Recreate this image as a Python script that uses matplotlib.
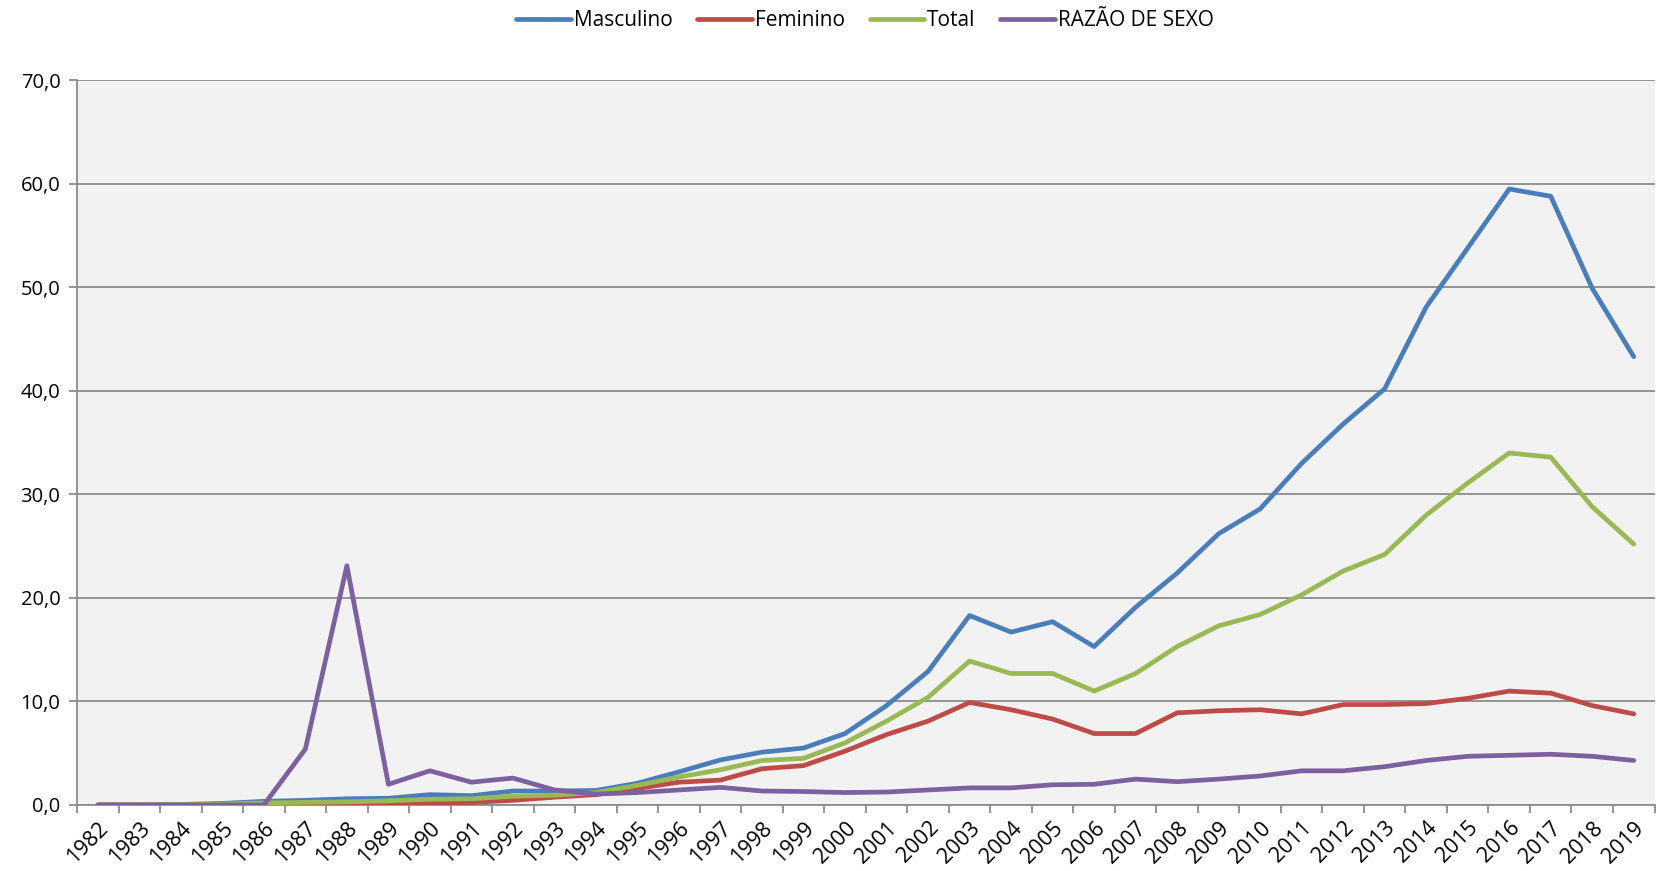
import matplotlib
matplotlib.use("Agg")
import matplotlib.pyplot as plt
import numpy as np

years = [str(y) for y in range(1982, 2020)]
masculino = [0.0, 0.0, 0.05, 0.15, 0.35, 0.45, 0.6, 0.65, 1.0, 0.9, 1.35, 1.35, 1.4, 2.1,
             3.2, 4.35, 5.1, 5.5, 6.9, 9.6, 12.9, 18.3, 16.7, 17.7, 15.3, 19.1, 22.4, 26.2,
             28.6, 33.0, 36.8, 40.2, 48.1, 53.8, 59.5, 58.8, 49.9, 43.3]
feminino = [0.0, 0.0, 0.0, 0.0, 0.0, 0.0, 0.0, 0.1, 0.2, 0.25, 0.45, 0.75, 1.0, 1.6,
            2.2, 2.4, 3.5, 3.8, 5.2, 6.8, 8.1, 9.9, 9.2, 8.3, 6.9, 6.9, 8.9, 9.1,
            9.2, 8.8, 9.7, 9.7, 9.8, 10.3, 11.0, 10.8, 9.6, 8.8]
total = [0.0, 0.0, 0.03, 0.08, 0.2, 0.25, 0.3, 0.4, 0.55, 0.6, 0.85, 0.95, 1.2, 1.9,
         2.7, 3.4, 4.3, 4.5, 6.0, 8.1, 10.4, 13.9, 12.7, 12.7, 11.0, 12.7, 15.3, 17.3,
         18.4, 20.3, 22.6, 24.2, 28.0, 31.1, 34.0, 33.6, 28.8, 25.2]
razao = [0.0, 0.0, 0.0, 0.0, 0.0, 5.4, 23.1, 2.0, 3.3, 2.2, 2.6, 1.45, 1.05, 1.2,
         1.45, 1.7, 1.35, 1.3, 1.2, 1.25, 1.45, 1.65, 1.65, 1.95, 2.0, 2.5, 2.25, 2.5,
         2.8, 3.3, 3.3, 3.7, 4.3, 4.7, 4.8, 4.9, 4.7, 4.3]

series = [("Masculino", masculino, "#4A7EBB"),
          ("Feminino", feminino, "#BE4B48"),
          ("Total", total, "#98B954"),
          ("RAZÃO DE SEXO", razao, "#7D60A0")]

plt.rcParams['font.family'] = ['Open Sans', 'DejaVu Sans']

fig = plt.figure(figsize=(16.57, 8.71), dpi=100)
ax = fig.add_axes([0.0465, 0.0758, 0.952, 0.832])
ax.set_facecolor("#F2F2F2")

x = np.arange(len(years))
for name, vals, col in series:
    ax.plot(x, vals, color=col, lw=3.4, label=name, solid_joinstyle='round',
            solid_capstyle='round', zorder=3)

ax.set_xlim(-0.5, len(years) - 0.5)
ax.set_ylim(0, 70)
yt = np.arange(0, 71, 10)
ax.set_yticks(yt)
ax.set_yticklabels([f"{v:.1f}".replace(".", ",") for v in yt], fontsize=14.5)
ax.yaxis.grid(True, color="#8C8C8C", lw=1.3, zorder=1)
ax.set_axisbelow(True)

ax.set_xticks(np.arange(-0.5, len(years), 1.0))
ax.set_xticklabels([])
ax.set_xticks(x, minor=True)
ax.set_xticklabels(years, minor=True, rotation=45, ha='right', va='top',
                   rotation_mode='anchor', fontsize=15.5)
ax.tick_params(axis='x', which='major', length=6, color="#8C8C8C", width=1.3)
ax.tick_params(axis='x', which='minor', length=0, pad=9)
ax.tick_params(axis='y', length=6, color="#8C8C8C", width=1.3, pad=6)

for s in ['top', 'right']:
    ax.spines[s].set_visible(False)
for s in ['left', 'bottom']:
    ax.spines[s].set_color("#8C8C8C")
    ax.spines[s].set_linewidth(1.3)

fig.legend(loc='center', bbox_to_anchor=(0.522, 0.976), ncol=4, frameon=False,
           fontsize=15, handlelength=2.6, handletextpad=0.15, columnspacing=1.2)

fig.savefig("out.png", dpi=100)
